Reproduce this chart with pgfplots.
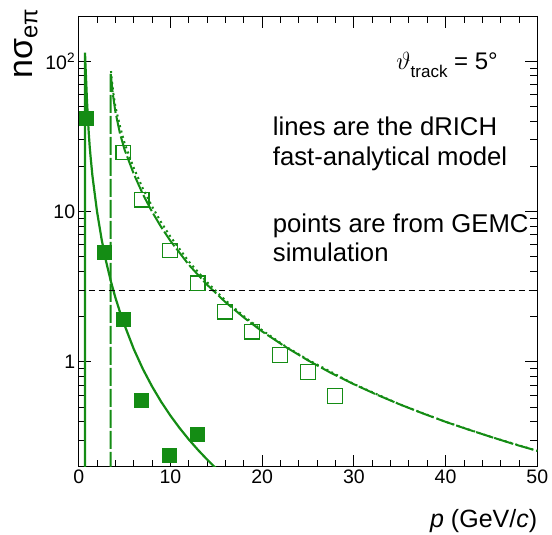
\documentclass[border=0pt]{standalone}
\usepackage{fontspec}
\setmainfont{Liberation Sans}
\usepackage{pgfplots}
\pgfplotsset{compat=1.18}
\definecolor{rgreen}{RGB}{20,140,20}

\begin{document}
\begin{tikzpicture}
\begin{axis}[
  name=ax, at={(0,0)}, anchor=south west,
  scale only axis, width=458.6bp, height=450.7bp,
  xmin=0, xmax=50, ymin=0.2, ymax=200,
  ymode=log,
  xtick={0,10,20,30,40,50}, minor x tick num=4,
  ytick={1,10,100}, yticklabels={1,10,10\textsuperscript{2}},
  minor ytick={0.2,0.3,0.4,0.5,0.6,0.7,0.8,0.9,2,3,4,5,6,7,8,9,20,30,40,50,60,70,80,90,200},
  tick align=inside, major tick length=12bp, minor tick length=7bp,
  every tick/.style={black, line width=0.8bp},
  axis line style={line width=0.9bp},
  tick label style={font=\fontsize{19.5bp}{22bp}\selectfont},
  /pgf/number format/assume math mode=true,
  clip=true,
]
% aerogel model
\addplot[rgreen, line width=2.2bp] coordinates {
(0.69,0.1)(0.69,114)(0.72,100)(0.76,88)(0.8,77)(0.85,65)(0.9,55)(1.0,42)(1.1,33)(1.2,27)(1.3,23)
(1.5,17.2)(2.0,9.97)(2.5,6.52)(3.0,4.61)(3.5,3.44)(4.0,2.67)(4.5,2.14)(5,1.75)(6,1.215)(7,0.893)
(8,0.684)(9,0.540)(10,0.4375)(11,0.3616)(12,0.3038)(13,0.2589)(14,0.2232)(15,0.1944)(16,0.171)};
% gas model (dashed)
\addplot[rgreen, line width=2bp, dash pattern=on 18bp off 3bp] coordinates {
(3.49,0.1)(3.49,84)(3.55,76)(3.7,62)(4.0,46)(4.5,33)(5,25.8)(6,17.8)(7,13.0)(8,9.95)(9,7.86)(10,6.37)
(12,4.42)(14,3.25)(16,2.49)(18,1.97)(20,1.59)(22.5,1.26)(25,1.02)(27.5,0.842)(30,0.708)(32.5,0.603)
(35,0.52)(37.5,0.453)(40,0.398)(42.5,0.353)(45,0.315)(47.5,0.282)(50,0.255)};
% gas model (dotted)
\addplot[rgreen, line width=2bp, dash pattern=on 2bp off 3.5bp] coordinates {
(3.52,86)(3.6,76)(3.8,60)(4.0,50)(4.5,37)(5,28.5)(6,19.5)(7,14.2)(8,10.8)(9,8.45)(10,6.8)
(12,4.65)(14,3.38)(16,2.56)(18,2.01)(20,1.62)(22.5,1.27)(25,1.03)(30,0.71)(35,0.52)(40,0.398)
(45,0.315)(50,0.255)};
% 3 sigma line
\addplot[black, line width=0.8bp, dash pattern=on 6bp off 4bp] coordinates {(0,3)(50,3)};
% GEMC points
\addplot[only marks, mark=square*, mark size=7bp, mark options={draw=rgreen, fill=rgreen}] coordinates {
(0.8,41.5)(2.76,5.36)(4.8,1.93)(6.79,0.555)(9.88,0.239)(12.93,0.330)};
\addplot[only marks, mark=square, mark size=7.3bp, mark options={draw=rgreen, line width=1.3bp}] coordinates {
(4.86,24.7)(6.87,12.0)(9.95,5.5)(12.97,3.33)(15.95,2.15)(18.9,1.58)(21.95,1.11)(25.0,0.854)(27.95,0.59)};
\end{axis}
\coordinate (O) at ([shift={(-78.7bp,466.7bp)}]ax.south west);
\node[anchor=base east, inner sep=0, font=\fontsize{24bp}{28bp}\selectfont] at ([shift={(498bp,-70bp)}]O)
  {$\vartheta$\raisebox{-8bp}{\fontsize{17bp}{20bp}\selectfont track} = 5°};
\begin{scope}[every node/.style={anchor=base west, inner sep=0, font=\fontsize{25.7bp}{30bp}\selectfont}]
\node at ([shift={(272.7bp,-135.7bp)}]O) {lines are the dRICH};
\node at ([shift={(272.7bp,-165.7bp)}]O) {fast-analytical model};
\node at ([shift={(272.7bp,-232.7bp)}]O) {points are from GEMC};
\node at ([shift={(272.7bp,-261.7bp)}]O) {simulation};
\end{scope}
\node[anchor=base east, inner sep=0, font=\fontsize{25bp}{30bp}\selectfont] at ([shift={(537.3bp,-527bp)}]O)
  {\textit{p} (GeV/\textit{c})};
\node[rotate=90, anchor=base east, inner sep=0, font=\fontsize{34bp}{40bp}\selectfont] at ([shift={(33bp,-8bp)}]O)
  {nσ\textsubscript{eπ}};
\pgfresetboundingbox
\path[use as bounding box] (O) rectangle ([shift={(552bp,-535bp)}]O);
\end{tikzpicture}
\end{document}
